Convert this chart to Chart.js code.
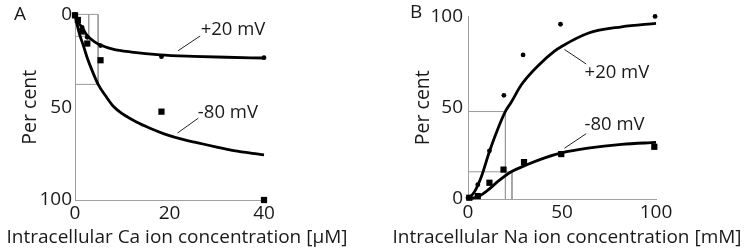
<!DOCTYPE html>
<html>
<head>
<meta charset="utf-8">
<script src="https://cdn.jsdelivr.net/npm/chart.js@4.4.1/dist/chart.umd.min.js"></script>
<style>
  html, body { margin: 0; padding: 0; background: #fff; }
  #wrap { position: relative; width: 746px; height: 249px; }
  canvas { position: absolute; top: 0; }
</style>
</head>
<body>
<div id="wrap">
  <canvas id="chartA" width="373" height="249" style="left:0px"></canvas>
  <canvas id="chartB" width="373" height="249" style="left:373px"></canvas>
</div>
<script>
// ---- Panel A: Ca (uM) vs per cent (reversed axis) ----
const caPtsPlus20 = [[0, 0], [1.5, 7], [2.6, 12.3], [5.4, 16.8], [18.3, 22.8], [40, 23.3]];
const caPtsMinus80 = [[0, 0.5], [0.6, 3], [1.4, 9.2], [2.6, 15.7], [5.4, 24.7], [18.3, 52.4], [40, 100]];
const caFitPlus20 = [[0, 0], [0.5, 3.5], [1.5, 7], [2.6, 11.5], [4, 14.5], [5.4, 16.5], [8, 18.7], [12, 20.3],
  [18, 21.8], [25, 22.6], [32, 23.1], [40, 23.5]];
const caFitMinus80 = [[0, 0], [0.4, 5], [1, 11], [1.8, 17], [2.6, 23.5], [3.5, 29.5], [4.9, 37.7], [6.5, 44],
  [8.1, 49.5], [10, 53.5], [13, 58], [16, 61.5], [19, 64.5], [23, 67.5], [26, 69.2], [30, 71.5],
  [33, 73.1], [36.5, 74.5], [40, 75.7]];
const caGuides = [
  [[0, 0], [4.9, 0], [4.9, 37.7], [0, 37.7]],
  [[2.9, 0], [2.9, 11.8], [0, 11.8]]
];
const caTicksX = [0, 20, 40];
const caTicksY = [0, 50, 100];

// ---- Panel B: Na (mM) vs per cent ----
const naPtsPlus20 = [[0, 0.7], [5.2, 7.8], [11.4, 26.4], [19.1, 56.8], [29.3, 78.9], [49.2, 95.7], [99.5, 100]];
const naPtsMinus80 = [[0.7, 0.7], [5.2, 1.6], [11.4, 8.9], [18.9, 16.1], [29.8, 20.2], [49.6, 24.6], [99.1, 28.6]];
const naFitPlus20 = [[0, 0], [3.4, 3.9], [7, 11.9], [11.4, 26], [15.9, 38.5], [19.9, 48], [23, 53],
  [28.3, 62.4], [37.3, 73], [46, 81], [50, 83.7], [63.8, 90.8], [81.7, 94.3], [100, 96.2]];
const naFitMinus80 = [[0, 0], [5.2, 1.2], [10.5, 4.8], [15.9, 9.6], [23, 14.9], [31.9, 19], [40.8, 22.5],
  [49.7, 25.2], [63.8, 27.8], [81.7, 29.9], [100, 31]];
const naGuides = [
  [[0, 47.9], [19.9, 47.9], [19.9, 0]],
  [[0, 14.9], [23.4, 14.9], [23.4, 0]]
];
const naTicksX = [0, 50, 100];
const naTicksY = [0, 50, 100];

// curve labels: text, leader line start/end and text anchor, in data units
const caLabels = [
  { text: "+20 mV", from: [21.8, 19.6], to: [26.5, 11.6], at: [26.6, 8.2] },
  { text: "-80 mV", from: [21.7, 63.9], to: [26.1, 55.9], at: [26.0, 52.9] }
];
const naLabels = [
  { text: "+20 mV", from: [51.3, 81.9], to: [62.9, 73.9], at: [62.0, 68.9] },
  { text: "-80 mV", from: [51.3, 27.8], to: [62.9, 35.8], at: [62.0, 40.4] }
];

const FONT = "'Open Sans', sans-serif";
const INK = "#1a1a1a";
const AXIS_GREY = "#a0a0a0";

const toXY = arr => arr.map(p => ({ x: p[0], y: p[1] }));

function buildDatasets(ptsPlus, ptsMinus, fitPlus, fitMinus, guides) {
    const sets = [
        { data: toXY(ptsPlus), pointStyle: "circle", pointRadius: 2.4, backgroundColor: "#000", borderWidth: 0, showLine: false, clip: false },
        { data: toXY(ptsMinus), pointStyle: "rect", pointRadius: 4.4, backgroundColor: "#000", borderWidth: 0, showLine: false, clip: false },
        { data: toXY(fitPlus), showLine: true, pointRadius: 0, borderColor: "#000", borderWidth: 2.8, cubicInterpolationMode: "monotone", clip: false },
        { data: toXY(fitMinus), showLine: true, pointRadius: 0, borderColor: "#000", borderWidth: 2.8, cubicInterpolationMode: "monotone", clip: false }
    ];
    guides.forEach(g => sets.push({ data: toXY(g), showLine: true, pointRadius: 0, borderColor: "#9a9a9a", borderWidth: 1, tension: 0, clip: false }));
    return sets;
}

// labels, leaders, panel letter and x-axis title
function decorPlugin(letter, letterPos, labels, xTitle, xTitleCenter) {
    return {
        id: "decor" + letter,
        afterDatasetsDraw(chart) {
            const { ctx, scales: { x, y } } = chart;
            ctx.save();
            ctx.strokeStyle = "#222";
            ctx.lineWidth = 1;
            ctx.font = "18.5px " + FONT;
            ctx.fillStyle = INK;
            ctx.textBaseline = "middle";
            ctx.textAlign = "left";
            labels.forEach(l => {
                ctx.beginPath();
                ctx.moveTo(x.getPixelForValue(l.from[0]), y.getPixelForValue(l.from[1]));
                ctx.lineTo(x.getPixelForValue(l.to[0]), y.getPixelForValue(l.to[1]));
                ctx.stroke();
                ctx.fillText(l.text, x.getPixelForValue(l.at[0]), y.getPixelForValue(l.at[1]));
            });
            ctx.font = "19px " + FONT;
            ctx.fillText(letter, letterPos[0], letterPos[1]);
            ctx.textAlign = "center";
            ctx.fillText(xTitle, xTitleCenter, 238);
            ctx.restore();
        }
    };
}

function makeChart(canvasId, opts) {
    const ctx = document.getElementById(canvasId).getContext("2d");
    return new Chart(ctx, {
        type: "scatter",
        data: { datasets: buildDatasets(opts.ptsPlus, opts.ptsMinus, opts.fitPlus, opts.fitMinus, opts.guides) },
        options: {
            responsive: false,
            animation: false,
            layout: { padding: { left: 0, right: opts.padRight, top: 11, bottom: 0 } },
            plugins: { legend: { display: false }, tooltip: { enabled: false } },
            scales: {
                x: {
                    type: "linear",
                    min: opts.xMin, max: opts.xMax,
                    afterBuildTicks: s => { s.ticks = opts.ticksX.map(v => ({ value: v })); },
                    afterFit: s => { s.height = opts.xHeight; },
                    grid: { display: false, drawTicks: false },
                    border: { display: true, color: AXIS_GREY, width: 1 },
                    ticks: { color: INK, font: { family: FONT, size: 19 }, padding: 2, maxRotation: 0 }
                },
                y: {
                    type: "linear",
                    min: 0, max: 100,
                    reverse: opts.reverseY,
                    afterBuildTicks: s => { s.ticks = opts.ticksY.map(v => ({ value: v })); },
                    afterFit: s => { s.width = opts.yWidth; },
                    grid: { display: false, drawTicks: false },
                    border: { display: true, color: AXIS_GREY, width: 1 },
                    ticks: { color: INK, font: { family: FONT, size: 19 }, padding: opts.yTickPad },
                    title: { display: true, text: "Per cent", color: INK, font: { family: FONT, size: 19.5 }, padding: { top: opts.yTitlePad, bottom: 0 } }
                }
            }
        },
        plugins: [decorPlugin(opts.letter, opts.letterPos, opts.labels, opts.xTitle, opts.xTitleCenter)]
    });
}

makeChart("chartA", {
    ptsPlus: caPtsPlus20, ptsMinus: caPtsMinus80, fitPlus: caFitPlus20, fitMinus: caFitMinus80, guides: caGuides,
    ticksX: caTicksX, ticksY: caTicksY, xMin: 0, xMax: 40, reverseY: true,
    padRight: 109, xHeight: 49, yWidth: 75, yTickPad: 3, yTitlePad: 19,
    letter: "A", letterPos: [14, 15], labels: caLabels,
    xTitle: "Intracellular Ca ion concentration [\u03bcM]", xTitleCenter: 177
});

makeChart("chartB", {
    ptsPlus: naPtsPlus20, ptsMinus: naPtsMinus80, fitPlus: naFitPlus20, fitMinus: naFitMinus80, guides: naGuides,
    ticksX: naTicksX, ticksY: naTicksY, xMin: 0, xMax: 100, reverseY: false,
    padRight: 90, xHeight: 50, yWidth: 95, yTickPad: 5, yTitlePad: 39,
    letter: "B", letterPos: [37, 13], labels: naLabels,
    xTitle: "Intracellular Na ion concentration [mM]", xTitleCenter: 194
});
</script>
</body>
</html>
